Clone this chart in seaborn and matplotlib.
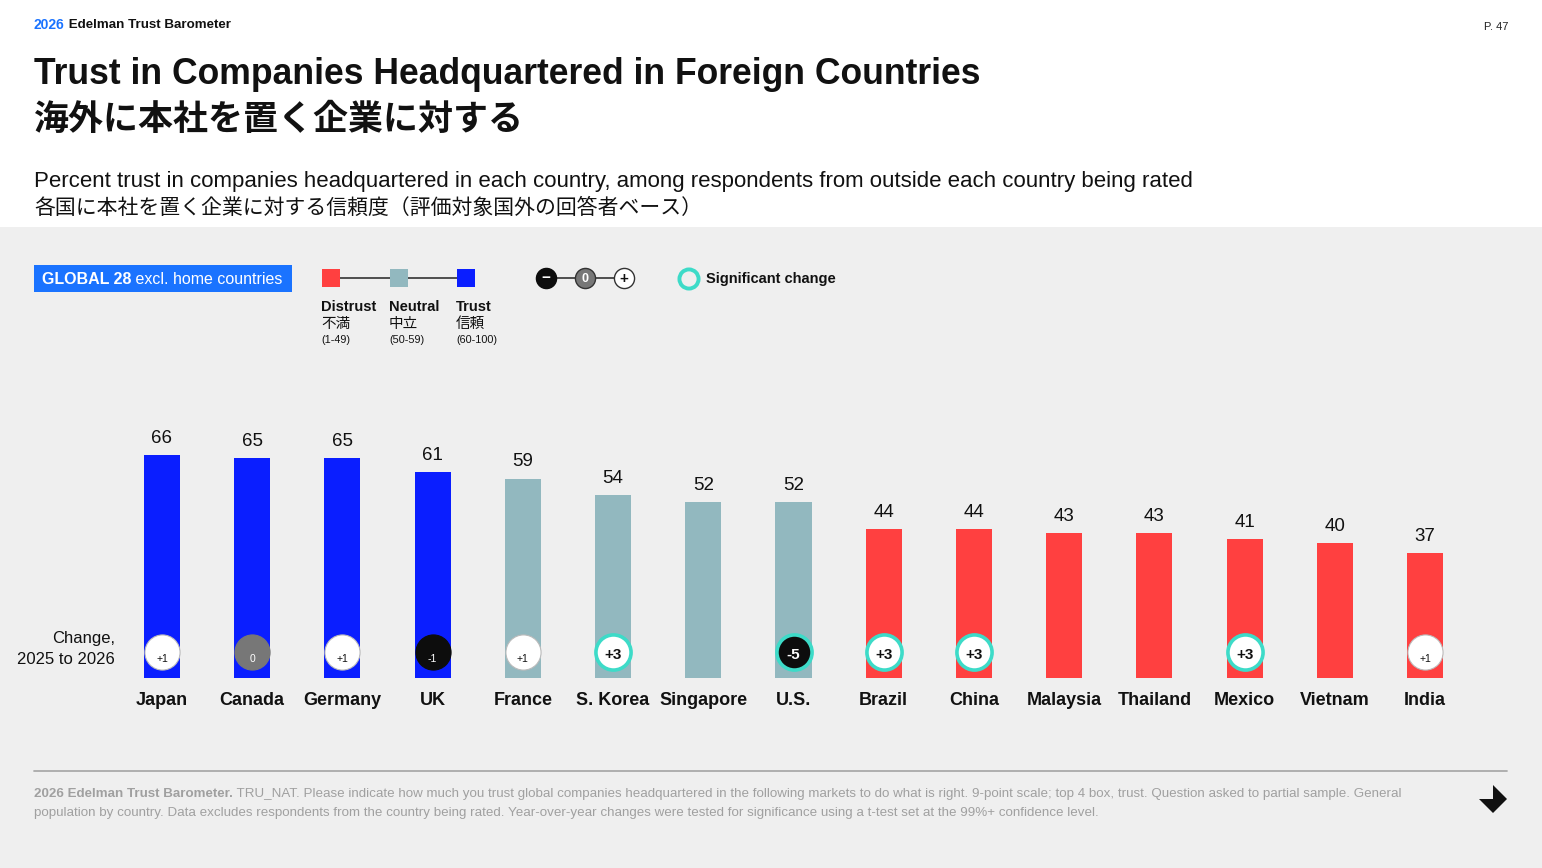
import matplotlib
matplotlib.use("Agg")
import matplotlib.pyplot as plt
import seaborn as sns
import pandas as pd
from matplotlib.patches import Rectangle, Polygon

# ---------------- data ----------------
countries = ["Japan", "Canada", "Germany", "UK", "France", "S. Korea", "Singapore",
             "U.S.", "Brazil", "China", "Malaysia", "Thailand", "Mexico", "Vietnam", "India"]
trust = [66, 65, 65, 61, 59, 54, 52, 52, 44, 44, 43, 43, 41, 40, 37]
change = [1, 0, 1, -1, 1, 3, None, -5, 3, 3, None, None, 3, None, 1]
significant = [False, False, False, False, False, True, False, True, True, True,
               False, False, True, False, False]

legend_names = ["Distrust", "Neutral", "Trust"]
legend_jp = ["不満", "中立", "信頼"]
legend_ranges = ["(1-49)", "(50-59)", "(60-100)"]

C_TRUST = "#0A1EFF"
C_NEUTRAL = "#92B8BF"
C_DISTRUST = "#FF4040"
C_TEAL = "#3DDBC8"
C_BG = "#EFEFEF"
C_HEAD = "#1A73FF"
C_TXT = "#111111"

def cat_color(v):
    if v >= 60:
        return C_TRUST
    if v >= 50:
        return C_NEUTRAL
    return C_DISTRUST

W, H = 1542, 868
sns.set_theme(style="white")
plt.rcParams["font.family"] = ["Liberation Sans", "Noto Sans CJK JP", "DejaVu Sans"]
JP = ["Noto Sans CJK JP", "Liberation Sans"]

fig = plt.figure(figsize=(W / 100, H / 100), dpi=100, facecolor="white")

# background / annotation axes in pixel coordinates
bg = fig.add_axes([0, 0, 1, 1], zorder=0)
bg.set_xlim(0, W)
bg.set_ylim(H, 0)
bg.axis("off")
bg.add_patch(Rectangle((0, 227), W, H - 227, facecolor=C_BG, edgecolor="none", zorder=0))

# ---------------- bars ----------------
step = (1425 - 162) / 14
left = 162 - step / 2
right = 1425 + step / 2
bottom_px = 678
ppu = 3.38
ymax = 70
ax = fig.add_axes([left / W, (H - bottom_px) / H, (right - left) / W, ymax * ppu / H], zorder=1)
ax.set_facecolor("none")

df = pd.DataFrame({"country": countries, "trust": trust})
sns.barplot(data=df, x="country", y="trust", hue="country",
            palette=[cat_color(v) for v in trust], width=0.4, legend=False,
            saturation=1, linewidth=0, edgecolor="none", ax=ax)
ax.set_xlim(-0.5, len(countries) - 0.5)
ax.set_ylim(0, ymax)
ax.set_xlabel("")
ax.set_ylabel("")
ax.set_yticks([])
ax.set_xticks(range(len(countries)))
ax.set_xticklabels(countries, fontsize=13, fontweight="bold", color=C_TXT)
ax.tick_params(axis="x", length=0, pad=10)
for s in ax.spines.values():
    s.set_visible(False)

for i, v in enumerate(trust):
    ax.text(i, v + 2.4, str(v), ha="center", va="bottom", fontsize=13.5, color=C_TXT)

# change circles
cy = 7.7
for i, (c, sig) in enumerate(zip(change, significant)):
    if c is None:
        continue
    if c > 0:
        fc, tc = "white", C_TXT
    elif c == 0:
        fc, tc = "#777777", "white"
    else:
        fc, tc = "#0D0D0D", "white"
    ec = C_TEAL if sig else ("#BBBBBB" if c > 0 else fc)
    lw = 2.6 if sig else 0.8
    ax.scatter([i], [cy], s=640, marker="o", facecolor=fc, edgecolor=ec,
               linewidth=lw, zorder=5)
    label = f"+{c}" if c > 0 else str(c)
    if sig:
        ax.text(i, cy - 1.0, label, ha="center", va="center", fontsize=11,
                fontweight="bold", color=tc, zorder=6)
    else:
        ax.text(i, cy - 2.0, label, ha="center", va="center", fontsize=7.5,
                color=tc, zorder=6)

bg.text(115, 639, "Change,", ha="right", va="center", fontsize=12, color=C_TXT)
bg.text(115, 659, "2025 to 2026", ha="right", va="center", fontsize=12, color=C_TXT)

# ---------------- header ----------------
h1 = bg.text(34, 25, "2026", ha="left", va="center", fontsize=10,
             fontweight="bold", color=C_HEAD)
bg.annotate(" Edelman Trust Barometer", xy=(1, 0.5), xycoords=h1, ha="left", va="center",
            fontsize=9.6, fontweight="bold", color=C_TXT)
bg.text(1508, 27, "P. 47", ha="right", va="center", fontsize=8, color="#222222")

bg.text(34, 75, "Trust in Companies Headquartered in Foreign Countries", ha="left",
        va="center", fontsize=25.6, fontweight="bold", color=C_TXT)
bg.text(34, 119, "海外に本社を置く企業に対する", ha="left", va="center", fontsize=25.2,
        fontweight="bold", color=C_TXT, family=JP)
bg.text(34, 181, "Percent trust in companies headquartered in each country, among respondents "
        "from outside each country being rated", ha="left", va="center", fontsize=16,
        color=C_TXT)
bg.text(34, 208, "各国に本社を置く企業に対する信頼度（評価対象国外の回答者ベース）", ha="left",
        va="center", fontsize=15, color=C_TXT, family=JP)

# ---------------- legend ----------------
bg.add_patch(Rectangle((34, 265), 258, 27, facecolor=C_HEAD, edgecolor="none", zorder=1))
g1 = bg.text(42, 279, "GLOBAL 28", ha="left", va="center", fontsize=11.5,
             fontweight="bold", color="white", zorder=2)
bg.annotate(" excl. home countries", xy=(1, 0.5), xycoords=g1, ha="left", va="center",
            fontsize=11.5, color="white", zorder=2)

# colour legend
bg.plot([331, 466], [278, 278], color="#333333", lw=1.2, zorder=1)
for x0, col, name, jp, rng in zip([322, 390, 457], [C_DISTRUST, C_NEUTRAL, C_TRUST],
                                  legend_names, legend_jp, legend_ranges):
    bg.add_patch(Rectangle((x0, 269), 18, 18, facecolor=col, edgecolor="none", zorder=2))
    bg.text(x0 - 1, 307, name, ha="left", va="center", fontsize=10.5,
            fontweight="bold", color=C_TXT)
    bg.text(x0 - 1, 324, jp, ha="left", va="center", fontsize=10.5,
            color=C_TXT, family=JP)
    bg.text(x0 - 1, 340, rng, ha="left", va="center", fontsize=7.8, color=C_TXT)

# change legend
bg.plot([546, 624], [278, 278], color="#333333", lw=1.2, zorder=1)
for x0, fc, ec, t, tc, fs in zip([546, 585, 624], ["#0D0D0D", "#777777", "white"],
                                 ["#0D0D0D", "#333333", "#333333"], ["−", "0", "+"],
                                 ["white", "white", C_TXT], [11, 9, 11]):
    bg.scatter([x0], [278], s=210, facecolor=fc, edgecolor=ec, linewidth=1, zorder=2)
    bg.text(x0, 278.5, t, ha="center", va="center", fontsize=fs, fontweight="bold",
            color=tc, zorder=3)
bg.scatter([689], [279], s=190, facecolor="none", edgecolor=C_TEAL, linewidth=2.8, zorder=2)
bg.text(706, 279, "Significant change", ha="left", va="center", fontsize=10.5,
        fontweight="bold", color=C_TXT)

# ---------------- footer ----------------
bg.plot([34, 1507], [771, 771], color="#AAAAAA", lw=1.3)
f1 = bg.text(34, 794, "2026 Edelman Trust Barometer.", ha="left", va="center",
             fontsize=9.6, fontweight="bold", color="#A0A0A0")
bg.annotate(" TRU_NAT. Please indicate how much you trust global companies headquartered "
            "in the following markets to do what is right. 9-point scale; top 4 box, trust. "
            "Question asked to partial sample. General", xy=(1, 0.5), xycoords=f1,
            ha="left", va="center", fontsize=9.6, color="#A0A0A0")
bg.text(34, 813, "population by country. Data excludes respondents from the country being "
        "rated. Year-over-year changes were tested for significance using a t-test set at the "
        "99%+ confidence level.", ha="left", va="center", fontsize=9.6, color="#A0A0A0")

arrow = [(1493, 785), (1507, 799), (1493, 813), (1479, 799), (1493, 799)]
bg.add_patch(Polygon(arrow, closed=True, facecolor=C_TXT, edgecolor="none"))

fig.savefig("out.png", dpi=100, facecolor=fig.get_facecolor())
